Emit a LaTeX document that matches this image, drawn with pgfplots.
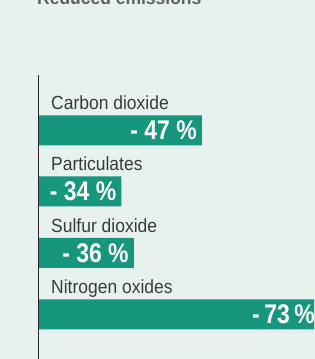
\documentclass[border=0pt]{standalone}
\usepackage{fontspec}
\setmainfont{Liberation Sans}
\newfontfamily\valfont{Liberation Sans}[FakeStretch=0.85]
\newfontfamily\labfont{Liberation Sans}[FakeStretch=0.92]
\usepackage{pgfplots}
\pgfplotsset{compat=1.18}
\definecolor{bg}{HTML}{E7F2EF}
\definecolor{barc}{HTML}{17967E}
\definecolor{lab}{HTML}{3A3A3A}
\begin{document}
\begin{tikzpicture}[x=1pt,y=1pt]
\useasboundingbox (0,0) rectangle (314,359);
\fill[bg] (-5,-5) rectangle (320,380);
\node[anchor=base west, inner sep=0pt, text=lab!80, font=\labfont\bfseries\fontsize{19}{19}\selectfont] at (37,354.5) {Reduced emissions};
\begin{axis}[
  at={(38.5pt,0pt)}, anchor=south west,
  scale only axis, width=275.5pt, height=284pt,
  xmin=20.6, xmax=65.1, ymin=0, ymax=284,
  axis x line=none, axis y line*=left,
  y axis line style={line width=1.8pt, color=black!85, -},
  ytick=\empty, xtick=\empty,
  xbar, bar width=30pt, axis on top,
  clip=true,
]
\addplot[fill=barc, draw=none] coordinates {(47,228.5) (34,167.5) (36,106) (73,44.5)};
% category labels
\begin{scope}[every node/.style={anchor=base west, inner sep=0pt, text=lab, font=\labfont\fontsize{19}{19}\selectfont}]
\node at (axis cs:20.6,228.5) [xshift=12.5pt, yshift=20.5pt] {Carbon dioxide};
\node at (axis cs:20.6,167.5) [xshift=12.5pt, yshift=20.5pt] {Particulates};
\node at (axis cs:20.6,106) [xshift=12.5pt, yshift=20.5pt] {Sulfur dioxide};
\node at (axis cs:20.6,44.5) [xshift=12.5pt, yshift=20.5pt] {Nitrogen oxides};
\end{scope}
% value labels
\begin{scope}[every node/.style={anchor=base east, inner sep=0pt, text=white, font=\valfont\bfseries\fontsize{27}{27}\selectfont}]
\node at (axis cs:47,228.5) [xshift=-5pt, yshift=-9.5pt] {- 47 \%};
\node at (axis cs:34,167.5) [xshift=-5pt, yshift=-9.5pt] {- 34 \%};
\node at (axis cs:36,106) [xshift=-5pt, yshift=-9.5pt] {- 36 \%};
\node at (axis cs:65.1,44.5) [xshift=1pt, yshift=-9.5pt] {-\,73\,\%};
\end{scope}
\end{axis}
\end{tikzpicture}
\end{document}
